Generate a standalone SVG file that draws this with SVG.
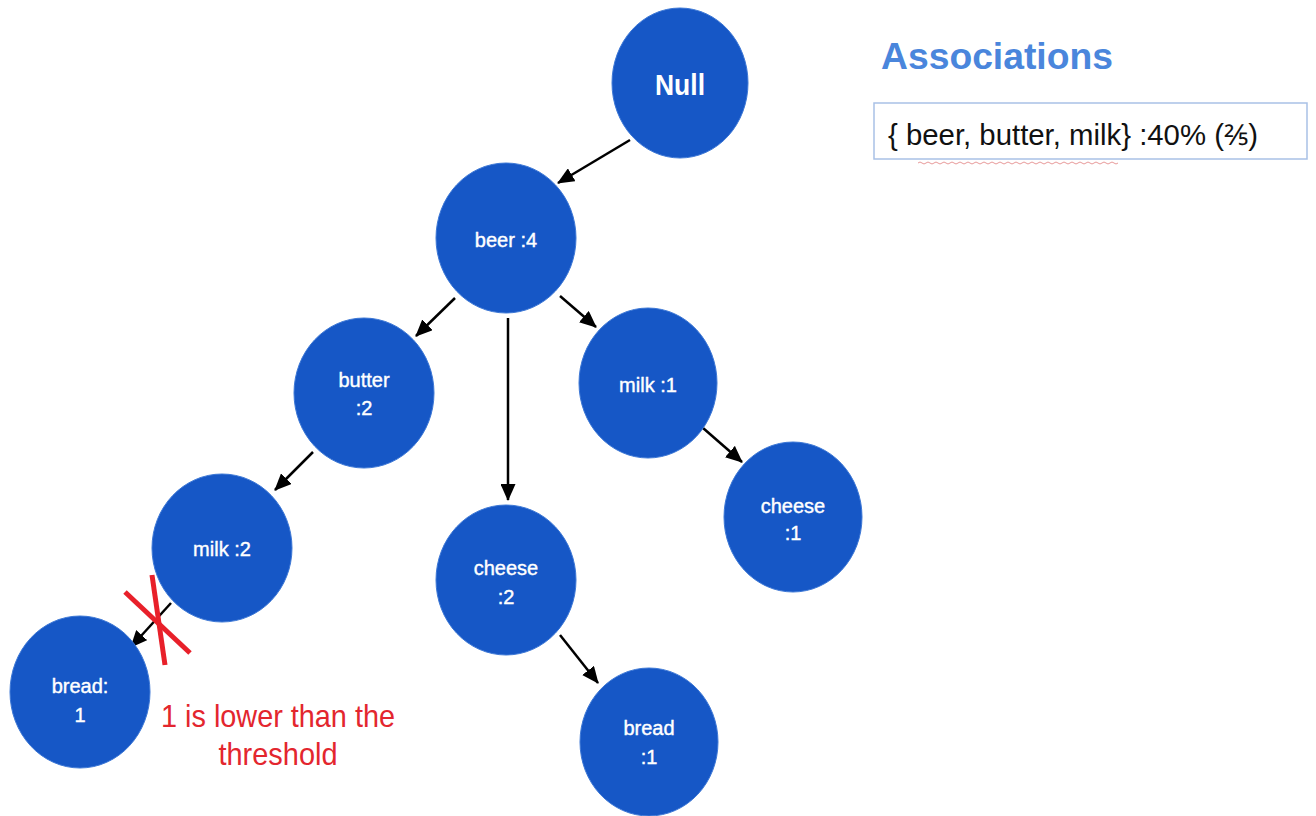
<svg xmlns="http://www.w3.org/2000/svg" width="1316" height="816" viewBox="0 0 1316 816">
<style>
.node{fill:#1657c6;stroke:#3d78d6;stroke-width:1}
.lbl{font-family:"Liberation Sans",Arial,sans-serif;font-size:20px;fill:#ffffff;stroke:#ffffff;stroke-width:0.4;text-anchor:middle}
.edge{stroke:#000;stroke-width:2.5;fill:none;marker-end:url(#arr)}
.red{font-family:"Liberation Sans",Arial,sans-serif;font-size:32px;fill:#e3262e;text-anchor:middle}
</style>
<defs>
<marker id="arr" markerUnits="userSpaceOnUse" markerWidth="17" markerHeight="15" refX="16" refY="7.5" orient="auto">
<path d="M0,0 L17,7.5 L0,15 z" fill="#000"/>
</marker>
</defs>
<rect width="1316" height="816" fill="#ffffff"/>
<g id="connectors">
<line class="edge" x1="630" y1="140" x2="558" y2="183"/>
<line class="edge" x1="455" y1="298" x2="416" y2="336"/>
<line class="edge" x1="508" y1="318" x2="508" y2="500"/>
<line class="edge" x1="560" y1="296" x2="596" y2="327"/>
<line class="edge" x1="313" y1="452" x2="275" y2="490"/>
<line class="edge" x1="703" y1="428" x2="742" y2="462"/>
<line class="edge" x1="171" y1="603" x2="131" y2="647"/>
<line class="edge" x1="560" y1="635" x2="598" y2="683"/>
</g>
<g id="node-null"><ellipse class="node" cx="680" cy="83" rx="68" ry="75"/><text class="lbl" x="680" y="95" style="font-size:30px;font-weight:bold;stroke-width:0" textLength="50" lengthAdjust="spacingAndGlyphs">Null</text></g>
<g id="node-beer"><ellipse class="node" cx="506" cy="238" rx="70" ry="75"/><text class="lbl" x="506" y="247">beer :4</text></g>
<g id="node-butter"><ellipse class="node" cx="364" cy="393" rx="70" ry="75"/><text class="lbl" x="364" y="387">butter</text><text class="lbl" x="364" y="415">:2</text></g>
<g id="node-milk2"><ellipse class="node" cx="222" cy="548" rx="70" ry="74"/><text class="lbl" x="222" y="556">milk :2</text></g>
<g id="node-bread1a"><ellipse class="node" cx="80" cy="692" rx="70" ry="76"/><text class="lbl" x="80" y="693">bread:</text><text class="lbl" x="80" y="722">1</text></g>
<g id="node-cheese2"><ellipse class="node" cx="506" cy="580" rx="70" ry="75"/><text class="lbl" x="506" y="575">cheese</text><text class="lbl" x="506" y="604">:2</text></g>
<g id="node-bread1b"><ellipse class="node" cx="649" cy="742" rx="69" ry="74"/><text class="lbl" x="649" y="735">bread</text><text class="lbl" x="649" y="764">:1</text></g>
<g id="node-milk1"><ellipse class="node" cx="648" cy="383" rx="69" ry="75"/><text class="lbl" x="648" y="392">milk :1</text></g>
<g id="node-cheese1"><ellipse class="node" cx="793" cy="517" rx="69" ry="75"/><text class="lbl" x="793" y="513">cheese</text><text class="lbl" x="793" y="540">:1</text></g>
<g id="cross">
<line x1="125" y1="592" x2="190" y2="653" stroke="#e8202a" stroke-width="5"/>
<line x1="152" y1="575" x2="165" y2="665" stroke="#e8202a" stroke-width="5"/>
</g>
<g id="note">
<text class="red" x="278" y="727" textLength="234" lengthAdjust="spacingAndGlyphs">1 is lower than the</text>
<text class="red" x="278" y="765" textLength="119" lengthAdjust="spacingAndGlyphs">threshold</text>
</g>
<g id="associations">
<text x="881" y="69" font-family="'Liberation Sans',Arial,sans-serif" font-size="36" font-weight="bold" fill="#4a86dc" textLength="232" lengthAdjust="spacingAndGlyphs">Associations</text>
<rect x="874" y="103" width="433" height="56" fill="#ffffff" stroke="#a9c1e6" stroke-width="1.5"/>
<text x="888" y="145" font-family="'Liberation Sans',Arial,sans-serif" font-size="29" fill="#111111" textLength="370" lengthAdjust="spacingAndGlyphs">{ beer, butter, milk} :40% (⅖)</text>
<path d="M918,163 q2,-2 4,0 t4,0 t4,0 t4,0 t4,0 t4,0 t4,0 t4,0 t4,0 t4,0 t4,0 t4,0 t4,0 t4,0 t4,0 t4,0 t4,0 t4,0 t4,0 t4,0 t4,0 t4,0 t4,0 t4,0 t4,0 t4,0 t4,0 t4,0 t4,0 t4,0 t4,0 t4,0 t4,0 t4,0 t4,0 t4,0 t4,0 t4,0 t4,0 t4,0 t4,0 t4,0 t4,0 t4,0 t4,0 t4,0 t4,0 t4,0 t4,0 t4,0" fill="none" stroke="#e89a9a" stroke-width="1"/>
</g>
</svg>
